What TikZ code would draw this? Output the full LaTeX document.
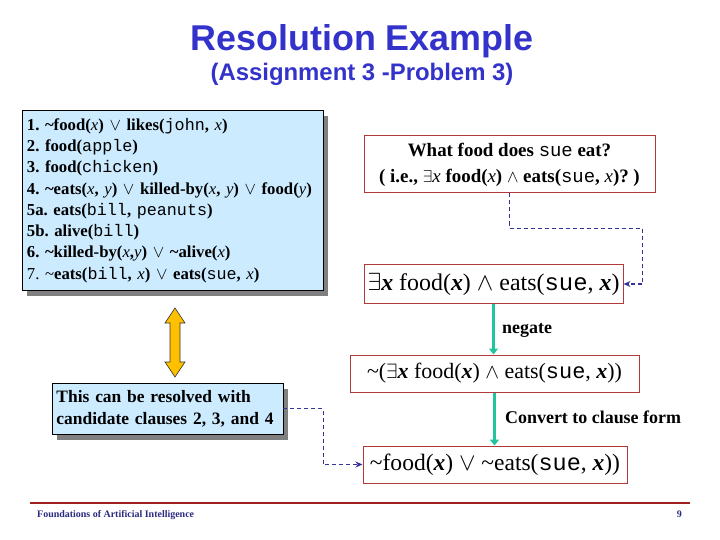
\documentclass[tikz,border=0pt]{standalone}
\usepackage{fontspec}
\setmainfont{Liberation Serif}
\setmonofont{Liberation Mono}
\newfontfamily\titlefont{Liberation Sans}
\usetikzlibrary{shadows,calc,arrows.meta}
\frenchspacing
\definecolor{titleblue}{HTML}{3333CC}
\definecolor{boxblue}{HTML}{CCEBFF}
\definecolor{boxred}{HTML}{B03A3A}
\definecolor{dashblue}{HTML}{333399}
\definecolor{arrowgreen}{HTML}{22C4A0}
\definecolor{arrowyellow}{HTML}{FFC000}
\definecolor{footred}{HTML}{A02020}
\definecolor{footblue}{HTML}{2A2A80}
\newcommand{\mytt}[1]{{\normalfont\ttfamily #1}}
\newcommand{\myvar}[1]{{\normalfont\itshape #1}}
\newcommand{\bvar}[1]{\textit{\textbf{#1}}}
\newcommand{\tl}{\textasciitilde}
\tikzset{
  bluebox/.style={draw=black, line width=0.8bp, fill=boxblue, inner sep=0pt,
    drop shadow={shadow xshift=5bp, shadow yshift=-6bp, fill=black!50, opacity=1}},
  redbox/.style={draw=boxred, line width=1bp, fill=white, inner sep=0pt, align=center},
  dashconn/.style={draw=dashblue, line width=1.8bp, dash pattern=on 4bp off 3bp,
    -{Stealth[length=7bp,width=6bp]}},
  greenconn/.style={draw=arrowgreen, line width=3bp, -{Triangle[length=6bp,width=9bp]}},
  steplabel/.style={anchor=base west, font=\fontsize{18}{20}\selectfont\bfseries, inner sep=0pt},
}
\begin{document}
\begin{tikzpicture}[x=1bp,y=-1bp]
\useasboundingbox (0,0) rectangle (720,540);
% title
\node[font=\titlefont\bfseries\fontsize{36}{40}\selectfont, text=titleblue] (title) at (362,41) {Resolution Example};
\node[font=\titlefont\bfseries\fontsize{24}{28}\selectfont, text=titleblue] (subtitle) at (362,74) {(Assignment 3 -Problem 3)};
% clauses box
\node[bluebox, anchor=north west, minimum width=301bp, minimum height=180bp, text width=292bp, align=left,
  font=\fontsize{16.8}{21.4}\selectfont\bfseries\frenchspacing] (clauses) at (22,110)
 {1. \tl food(\myvar{x}) $\vee$ likes(\mytt{john}, \myvar{x})\\
 2. food(\mytt{apple})\\
 3. food(\mytt{chicken})\\
 4. \tl eats(\myvar{x}, \myvar{y}) $\vee$ killed-by(\myvar{x}, \myvar{y}) $\vee$ food(\myvar{y})\\
 5a. eats(\mytt{bill}, \mytt{peanuts})\\
 5b. alive(\mytt{bill})\\
 6. \tl killed-by(\myvar{x},\myvar{y}) $\vee$ \tl alive(\myvar{x})\\
 {\mdseries 7. \tl}eats(\mytt{bill}, \myvar{x}) $\vee$ eats(\mytt{sue}, \myvar{x})};
% question box
\node[redbox, minimum width=291bp, minimum height=57bp, font=\fontsize{19}{26}\selectfont\bfseries\frenchspacing] (question) at (509.5,164.5)
 {What food does \mytt{sue} eat?\\
  ( i.e., $\exists$\myvar{x} food(\myvar{x}) $\wedge$ eats(\mytt{sue}, \myvar{x})? )};
\node[redbox, minimum width=259bp, minimum height=38bp, font=\fontsize{24}{26}\selectfont] (goal) at (493.5,284)
 {$\exists$\bvar{x} food(\bvar{x}) $\wedge$ eats(\mytt{sue}, \bvar{x})};
\node[redbox, minimum width=289bp, minimum height=37bp, font=\fontsize{22}{26}\selectfont] (negated) at (494.5,373.5)
 {\tl($\exists$\bvar{x} food(\bvar{x}) $\wedge$ eats(\mytt{sue}, \bvar{x}))};
\node[redbox, minimum width=264bp, minimum height=37bp, font=\fontsize{23.6}{26}\selectfont] (clause) at (495,464.5)
 {\tl food(\bvar{x}) $\vee$ \tl eats(\mytt{sue}, \bvar{x}))};
% resolved box
\node[bluebox, minimum width=231bp, minimum height=51bp, text width=222bp, align=left,
  font=\fontsize{17.5}{22}\selectfont\bfseries] (resolved) at (167.5,408.5)
 {This can be resolved with\\ candidate clauses 2, 3, and 4};
% connectors
\draw[dashconn] (question.south) -- ++(0,35) coordinate (q1) -| ($(goal.east)+(19,0)$) -- (goal.east);
\draw[dashconn] (resolved.east) -- ++(40,0) coordinate (r1) |- (clause.west);
\draw[greenconn] (goal.south) -- (goal.south |- negated.north);
\draw[greenconn] (negated.south) -- (negated.south |- clause.north);
\node[steplabel] (neglabel) at (502,333) {negate};
\node[steplabel] (convlabel) at (505,423) {Convert to clause form};
% yellow double arrow
\filldraw[fill=arrowyellow, draw=black!80, line width=0.6bp]
 (175,308) -- (185,323) -- (180,323) -- (180,362) -- (185,362) -- (175,377)
 -- (165,362) -- (170,362) -- (170,323) -- (165,323) -- cycle;
% footer
\draw[footred, line width=2.5bp] (30,503) coordinate (fl) -- (690,503) coordinate (fr);
\node[anchor=base west, inner sep=0pt, text=footblue, font=\fontsize{10}{12}\selectfont\bfseries] (foottext) at (37,517) {Foundations of Artificial Intelligence};
\node[anchor=base east, inner sep=0pt, text=footblue, font=\fontsize{10}{12}\selectfont\bfseries] (pagenum) at (682,517) {9};
\end{tikzpicture}
\end{document}
